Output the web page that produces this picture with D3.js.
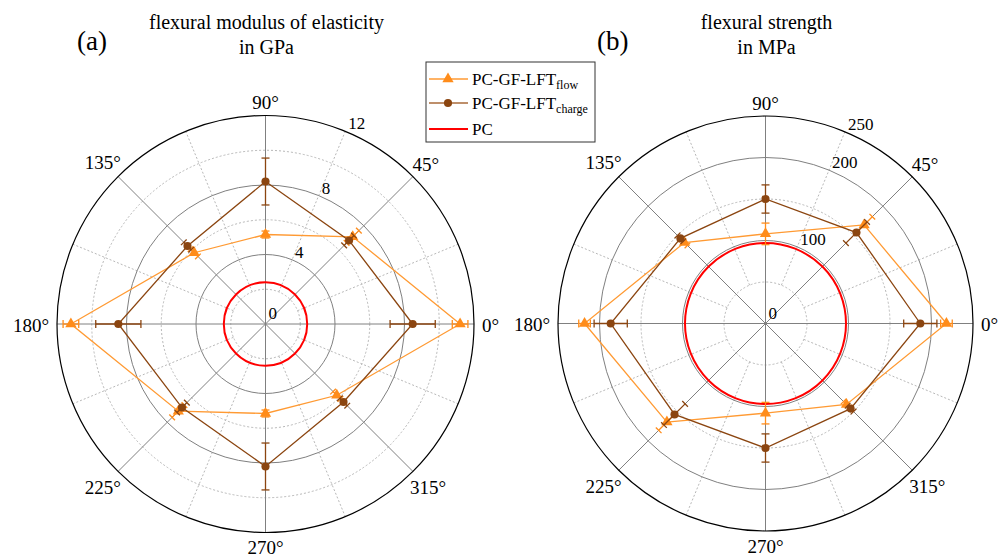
<!DOCTYPE html>
<html>
<head>
<meta charset="utf-8">
<script src="https://cdn.jsdelivr.net/npm/d3@7"></script>
<style>
	body { margin: 0; background: #fff; }
	svg, svg text { font-family: "Liberation Serif", "Times New Roman", serif; }
</style>
</head>
<body>
<svg id="chart" width="1003" height="559"></svg>
<script>
// fiber orientation angles, degrees counter clockwise from 0°
const angles = [0, 45, 90, 135, 180, 225, 270, 315];
const angleLabels = ["0°", "45°", "90°", "135°", "180°", "225°", "270°", "315°"];

// (a) flexural modulus in GPa
const modFlow = [11.2, 7.1, 5.15, 5.8, 11.2, 7.1, 5.15, 5.8];
const modFlowErr = [0.45, 0.5, 0.2, 0.3, 0.45, 0.5, 0.2, 0.3];
const modCharge = [8.47, 6.8, 8.2, 6.35, 8.47, 6.8, 8.2, 6.35];
const modChargeErr = [1.3, 0.4, 1.35, 0.3, 1.3, 0.4, 1.35, 0.3];
const modPC = 2.4;
const modTicks = [0, 4, 8, 12];
const modMinor = [2, 6, 10];

// (b) flexural strength in MPa
const strFlow = [218, 168, 108, 138, 218, 168, 108, 138];
const strFlowErr = [7, 14, 13, 5, 7, 14, 13, 5];
const strCharge = [186.5, 155, 150, 145, 186.5, 155, 150, 145];
const strChargeErr = [20, 18, 17, 5, 20, 18, 17, 5];
const strPC = 97;
const strTicks = [0, 100, 200, 250];
const strMinor = [50, 150];

const colors = {
	flow: "#ff8c1a",
	flowLine: "#ff9a33",
	charge: "#8b4510",
	pc: "#ff0000",
	grid: "#808080",
	minor: "#b8b8b8"
};

const FONT = "Liberation Serif";
const svg = d3.select("#chart");
const rad = d => d * Math.PI / 180;

function drawPolar(opt) {
	const g = svg.append("g").attr("transform", `translate(${opt.cx},${opt.cy})`);
	const r = d3.scaleLinear().domain([0, opt.max]).range([0, opt.R]);
	const pt = (a, v) => [r(v) * Math.cos(rad(a)), -r(v) * Math.sin(rad(a))];

	// minor grid: dotted rings and spokes every 22.5°
	g.selectAll(".minorRing").data(opt.minor).enter().append("circle")
		.attr("r", d => r(d))
		.attr("fill", "none")
		.attr("stroke", colors.minor)
		.attr("stroke-dasharray", "2,2");
	const minorSpokes = d3.range(22.5, 360, 45);
	g.selectAll(".minorSpoke").data(minorSpokes).enter().append("line")
		.attr("x1", d => pt(d, opt.minor[0])[0])
		.attr("y1", d => pt(d, opt.minor[0])[1])
		.attr("x2", d => pt(d, opt.max)[0])
		.attr("y2", d => pt(d, opt.max)[1])
		.attr("stroke", colors.minor)
		.attr("stroke-dasharray", "2,2");

	// major rings
	g.selectAll(".majorRing").data(opt.ticks.filter(d => d > 0 && d < opt.max)).enter().append("circle")
		.attr("r", d => r(d))
		.attr("fill", "none")
		.attr("stroke", colors.grid);

	// major spokes through the center
	g.selectAll(".spoke").data(angles).enter().append("line")
		.attr("x1", 0).attr("y1", 0)
		.attr("x2", d => pt(d, opt.max)[0])
		.attr("y2", d => pt(d, opt.max)[1])
		.attr("stroke", colors.grid);

	// outer ring
	g.append("circle")
		.attr("r", r(opt.max))
		.attr("fill", "none")
		.attr("stroke", "#000")
		.attr("stroke-width", 1.2);

	// radial tick labels along 67.5°
	g.selectAll(".tickLabel").data(opt.ticks).enter().append("text")
		.attr("x", d => pt(67.5, d)[0] + 3)
		.attr("y", d => pt(67.5, d)[1] - (d == 0 ? 5 : 2))
		.attr("font-family", FONT)
		.attr("font-size", 17)
		.text(d => d);

	// angular labels
	g.selectAll(".angLabel").data(angles).enter().append("text")
		.attr("font-family", FONT)
		.attr("font-size", 19)
		.attr("text-anchor", "middle")
		.attr("dominant-baseline", "central")
		.text((d, i) => angleLabels[i])
		.each(function(d) {
			const w = this.getComputedTextLength();
			const ext = Math.sqrt(Math.pow(Math.cos(rad(d)) * w / 2, 2) + Math.pow(Math.sin(rad(d)) * 6, 2));
			const rr = opt.R + 8 + ext;
			d3.select(this)
				.attr("x", rr * Math.cos(rad(d)))
				.attr("y", -rr * Math.sin(rad(d)) + 1);
		});

	// PC reference circle
	g.append("circle")
		.attr("r", r(opt.pc))
		.attr("fill", "none")
		.attr("stroke", colors.pc)
		.attr("stroke-width", 2);

	const radial = d3.lineRadial()
		.angle(d => Math.PI / 2 - rad(d.a))
		.radius(d => r(d.v))
		.curve(d3.curveLinearClosed);

	function series(vals, errs, lineColor, color, marker) {
		const data = angles.map((a, i) => ({a: a, v: vals[i], e: errs[i]}));
		g.append("path")
			.datum(data)
			.attr("d", radial)
			.attr("fill", "none")
			.attr("stroke", lineColor)
			.attr("stroke-width", 1.3);

		// error bars along the radius with perpendicular caps
		data.forEach(d => {
			const lo = pt(d.a, d.v - d.e), hi = pt(d.a, d.v + d.e);
			const px = -Math.sin(rad(d.a)) * 4, py = -Math.cos(rad(d.a)) * 4;
			g.append("line")
				.attr("x1", lo[0]).attr("y1", lo[1])
				.attr("x2", hi[0]).attr("y2", hi[1])
				.attr("stroke", color).attr("stroke-width", 1.3);
			[lo, hi].forEach(p => {
				g.append("line")
					.attr("x1", p[0] - px).attr("y1", p[1] - py)
					.attr("x2", p[0] + px).attr("y2", p[1] + py)
					.attr("stroke", color).attr("stroke-width", 1.3);
			});
		});

		g.selectAll(null).data(data).enter().append("path")
			.attr("transform", d => `translate(${pt(d.a, d.v)})`)
			.attr("d", d3.symbol().type(marker == "tri" ? d3.symbolTriangle : d3.symbolCircle).size(marker == "tri" ? 55 : 52))
			.attr("fill", color);
	}

	series(opt.flow, opt.flowErr, colors.flowLine, colors.flow, "tri");
	series(opt.charge, opt.chargeErr, colors.charge, colors.charge, "dot");

	// titles
	svg.append("text")
		.attr("x", opt.cx + 1).attr("y", 29)
		.attr("text-anchor", "middle")
		.attr("font-family", FONT)
		.attr("font-size", 20)
		.text(opt.title[0]);
	svg.append("text")
		.attr("x", opt.cx + 1).attr("y", 54)
		.attr("text-anchor", "middle")
		.attr("font-family", FONT)
		.attr("font-size", 20)
		.text(opt.title[1]);
	svg.append("text")
		.attr("x", opt.letterX).attr("y", 50)
		.attr("font-family", FONT)
		.attr("font-size", 27)
		.text(opt.letter);
}

drawPolar({
	cx: 265.5, cy: 324, R: 208.5, max: 12,
	ticks: modTicks, minor: modMinor, pc: modPC,
	flow: modFlow, flowErr: modFlowErr, charge: modCharge, chargeErr: modChargeErr,
	title: ["flexural modulus of elasticity", "in GPa"], letter: "(a)", letterX: 77
});

drawPolar({
	cx: 765.5, cy: 323.5, R: 207.5, max: 250,
	ticks: strTicks, minor: strMinor, pc: strPC,
	flow: strFlow, flowErr: strFlowErr, charge: strCharge, chargeErr: strChargeErr,
	title: ["flexural strength", "in MPa"], letter: "(b)", letterX: 597
});

// legend
const legend = svg.append("g").attr("transform", "translate(426,62)");
legend.append("rect")
	.attr("width", 169).attr("height", 80)
	.attr("fill", "#fff")
	.attr("stroke", "#333");

const legendItems = [
	{name: "PC-GF-LFT", sub: "flow", color: colors.flow, line: colors.flowLine, marker: "tri"},
	{name: "PC-GF-LFT", sub: "charge", color: colors.charge, line: "#a86a3a", marker: "dot"},
	{name: "PC", sub: "", color: colors.pc, line: colors.pc, marker: null}
];
const legendY = [17, 41, 67];

legendItems.forEach((d, i) => {
	const y = legendY[i];
	legend.append("line")
		.attr("x1", 3).attr("x2", 42)
		.attr("y1", y).attr("y2", y)
		.attr("stroke", d.line)
		.attr("stroke-width", d.marker ? 1.5 : 2);
	if (d.marker) {
		legend.append("path")
			.attr("transform", `translate(22,${y})`)
			.attr("d", d3.symbol().type(d.marker == "tri" ? d3.symbolTriangle : d3.symbolCircle).size(d.marker == "tri" ? 55 : 52))
			.attr("fill", d.color);
	}
	const t = legend.append("text")
		.attr("x", 46).attr("y", y + 6)
		.attr("font-family", FONT)
		.attr("font-size", 17)
		.text(d.name);
	if (d.sub) {
		t.append("tspan")
			.attr("font-size", 12)
			.attr("dy", 4)
			.text(d.sub);
	}
});
</script>
</body>
</html>
